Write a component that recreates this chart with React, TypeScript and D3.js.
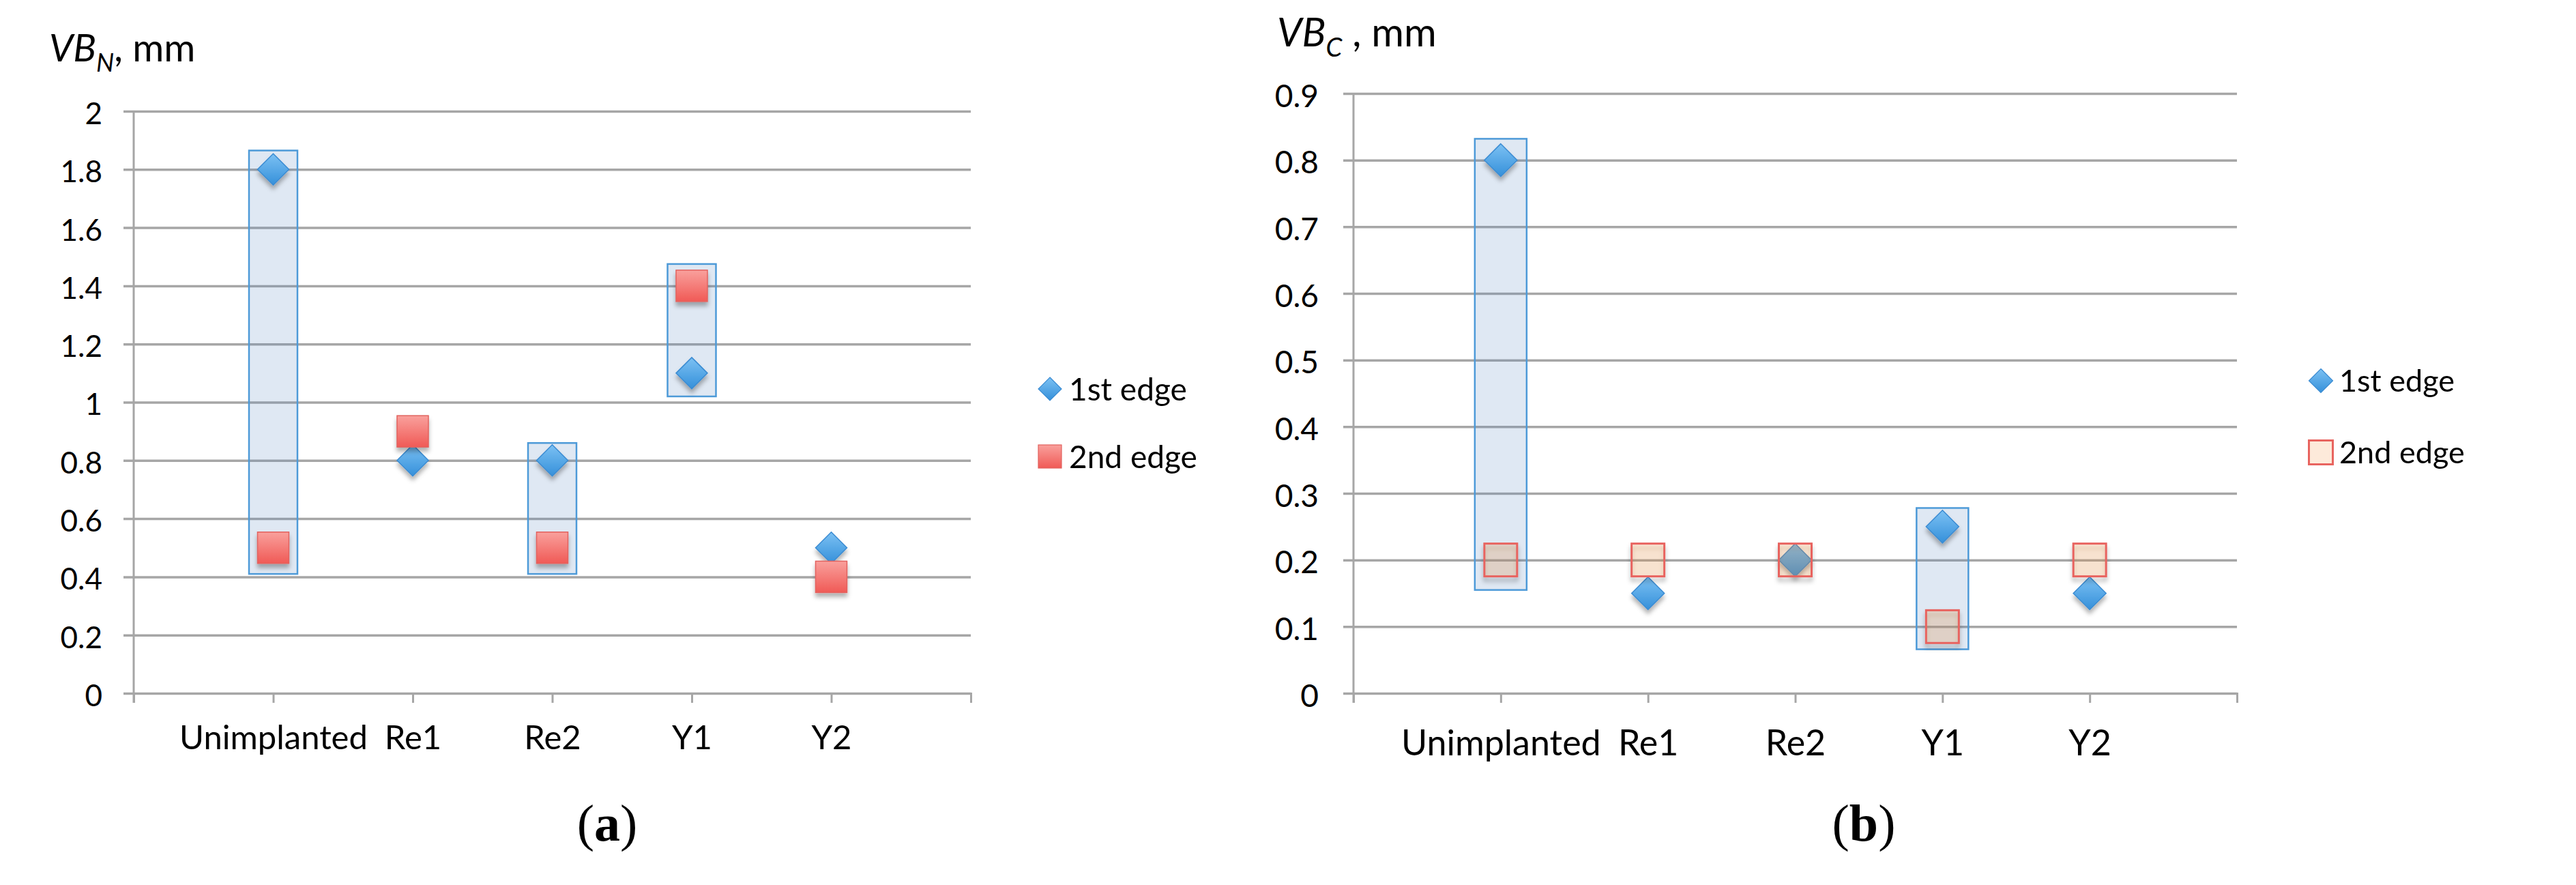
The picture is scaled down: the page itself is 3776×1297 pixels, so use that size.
import React, { useEffect, useRef } from 'react';
import * as d3 from 'd3';

const categories = ['Unimplanted', 'Re1', 'Re2', 'Y1', 'Y2'];
const legendLabels = ['1st edge', '2nd edge'];

// (a) VB_N
const vbnFirstEdge = [1.8, 0.8, 0.8, 1.1, 0.5];
const vbnSecondEdge = [0.5, 0.9, 0.5, 1.4, 0.4];
const vbnTicks = [0, 0.2, 0.4, 0.6, 0.8, 1, 1.2, 1.4, 1.6, 1.8, 2];
const vbnBoxCats = ['Unimplanted', 'Re2', 'Y1'];
const vbnBoxLow = [0.41, 0.41, 1.02];
const vbnBoxHigh = [1.865, 0.86, 1.475];

// (b) VB_C
const vbcFirstEdge = [0.8, 0.15, 0.2, 0.25, 0.15];
const vbcSecondEdge = [0.2, 0.2, 0.2, 0.1, 0.2];
const vbcTicks = [0, 0.1, 0.2, 0.3, 0.4, 0.5, 0.6, 0.7, 0.8, 0.9];
const vbcBoxCats = ['Unimplanted', 'Y1'];
const vbcBoxLow = [0.155, 0.066];
const vbcBoxHigh = [0.832, 0.278];

const FONT = 'Lato, "Open Sans", sans-serif';
const GRID = '#a6a6a6';

interface Panel {
  left: number; right: number; top: number; bottom: number;
  ticks: number[];
  first: number[]; second: number[];
  boxCats: string[]; boxLow: number[]; boxHigh: number[];
  hollow: boolean;
  tickFont: number; tickLabelX: number;
  catFont: number; catBaseline: number;
  diamond: number; square: number; boxWidth: number;
  titleX: number; titleY: number; titleSize: number; titleSub: string; titleRest: string;
  legX: number; legY1: number; legY2: number; legTextX: number; legFont: number; legMarker: number;
  capX: number; capLetter: string;
}

const panels: Panel[] = [
  {
    left: 196, right: 1423, top: 163, bottom: 1016,
    ticks: vbnTicks, first: vbnFirstEdge, second: vbnSecondEdge,
    boxCats: vbnBoxCats, boxLow: vbnBoxLow, boxHigh: vbnBoxHigh,
    hollow: false,
    tickFont: 44, tickLabelX: 150, catFont: 49, catBaseline: 1098,
    diamond: 23, square: 46, boxWidth: 71,
    titleX: 72, titleY: 90, titleSize: 56, titleSub: 'N', titleRest: ', mm',
    legX: 1539, legY1: 570, legY2: 669, legTextX: 1567, legFont: 46, legMarker: 34,
    capX: 890, capLetter: 'a',
  },
  {
    left: 1984, right: 3279, top: 137, bottom: 1016,
    ticks: vbcTicks, first: vbcFirstEdge, second: vbcSecondEdge,
    boxCats: vbcBoxCats, boxLow: vbcBoxLow, boxHigh: vbcBoxHigh,
    hollow: true,
    tickFont: 46, tickLabelX: 1933, catFont: 52, catBaseline: 1107,
    diamond: 24, square: 48, boxWidth: 76,
    titleX: 1872, titleY: 68, titleSize: 58, titleSub: 'C', titleRest: ' , mm',
    legX: 3402, legY1: 558, legY2: 663, legTextX: 3429, legFont: 45, legMarker: 35,
    capX: 2732, capLetter: 'b',
  },
];

const diamondPath = (h: number) => `M0,${-h}L${h},0L0,${h}L${-h},0Z`;

export default function App() {
  const svgRef = useRef<SVGSVGElement>(null);

  useEffect(() => {
    if (!svgRef.current) return;
    const svg = d3.select(svgRef.current);
    svg.selectAll('*').remove();

    const defs = svg.append('defs');
    const blue = defs.append('linearGradient').attr('id', 'blueGrad').attr('x1', 0).attr('y1', 0).attr('x2', 0).attr('y2', 1);
    blue.append('stop').attr('offset', '0%').attr('stop-color', '#7cc1f3');
    blue.append('stop').attr('offset', '100%').attr('stop-color', '#3590da');
    const red = defs.append('linearGradient').attr('id', 'redGrad').attr('x1', 0).attr('y1', 0).attr('x2', 0).attr('y2', 1);
    red.append('stop').attr('offset', '0%').attr('stop-color', '#f9a09c');
    red.append('stop').attr('offset', '100%').attr('stop-color', '#f05a56');
    const shadow = defs.append('filter').attr('id', 'shadow').attr('x', '-50%').attr('y', '-50%').attr('width', '200%').attr('height', '200%');
    shadow.append('feDropShadow').attr('dx', 0).attr('dy', 6).attr('stdDeviation', 3)
      .attr('flood-color', '#000').attr('flood-opacity', 0.3);

    panels.forEach(p => {
      const x = d3.scalePoint<string>().domain(categories).range([p.left, p.right]).padding(1);
      const yMax = p.ticks[p.ticks.length - 1];
      const y = d3.scaleLinear().domain([0, yMax]).range([p.bottom, p.top]);
      const g = svg.append('g');

      // horizontal gridlines + y tick labels
      const yAxis = g.append('g')
        .attr('transform', `translate(${p.left - 15},0)`)
        .call(d3.axisLeft(y).tickValues(p.ticks).tickSize(-(p.right - p.left + 15))
          .tickPadding(p.left - 15 - p.tickLabelX)
          .tickFormat(d => String(+(+d).toFixed(1))));
      yAxis.select('.domain').remove();
      yAxis.selectAll('line').attr('stroke', GRID).attr('stroke-width', 3.5);
      yAxis.selectAll('text')
        .attr('font-family', FONT).attr('font-size', p.tickFont).attr('fill', '#000').attr('dy', '0.42em');

      // vertical axis line
      g.append('line')
        .attr('x1', p.left).attr('x2', p.left)
        .attr('y1', y(yMax)).attr('y2', p.bottom + 14)
        .attr('stroke', GRID).attr('stroke-width', 3);

      // category axis
      const xAxis = g.append('g')
        .attr('transform', `translate(0,${p.bottom})`)
        .call(d3.axisBottom(x).tickSizeInner(14).tickSizeOuter(14));
      xAxis.select('.domain').attr('stroke', GRID).attr('stroke-width', 3);
      xAxis.selectAll('line').attr('stroke', GRID).attr('stroke-width', 3);
      xAxis.selectAll('text')
        .attr('font-family', FONT).attr('font-size', p.catFont).attr('fill', '#000')
        .attr('y', p.catBaseline - p.bottom).attr('dy', 0);

      // highlight boxes (behind the markers)
      g.append('g')
        .selectAll('rect')
        .data(p.boxCats)
        .join('rect')
        .attr('x', c => (x(c) as number) - p.boxWidth / 2)
        .attr('y', (c, i) => y(p.boxHigh[i]))
        .attr('width', p.boxWidth)
        .attr('height', (c, i) => y(p.boxLow[i]) - y(p.boxHigh[i]))
        .attr('fill', 'rgba(79,129,189,0.18)')
        .attr('stroke', '#4d9ad8')
        .attr('stroke-width', 2.5);

      // 1st edge diamonds
      g.append('g').attr('filter', 'url(#shadow)')
        .selectAll('path')
        .data(categories)
        .join('path')
        .attr('transform', (c, i) => `translate(${x(c)},${y(p.first[i])})`)
        .attr('d', diamondPath(p.diamond))
        .attr('fill', 'url(#blueGrad)')
        .attr('stroke', '#3a8bd2')
        .attr('stroke-width', 1.5);

      // 2nd edge squares
      g.append('g').attr('filter', 'url(#shadow)')
        .selectAll('rect')
        .data(categories)
        .join('rect')
        .attr('x', c => (x(c) as number) - p.square / 2)
        .attr('y', (c, i) => y(p.second[i]) - p.square / 2)
        .attr('width', p.square)
        .attr('height', p.square)
        .attr('fill', p.hollow ? 'rgba(247,150,70,0.2)' : 'url(#redGrad)')
        .attr('stroke', p.hollow ? '#e8645f' : '#e2625e')
        .attr('stroke-width', p.hollow ? 3 : 1.5);

      // y title
      const title = g.append('text')
        .attr('x', p.titleX).attr('y', p.titleY)
        .attr('font-family', FONT).attr('font-size', p.titleSize).attr('fill', '#000');
      title.append('tspan').attr('font-style', 'italic').text('VB');
      title.append('tspan').attr('font-style', 'italic')
        .attr('font-size', p.titleSize * 0.66).attr('dy', p.titleSize * 0.26).text(p.titleSub);
      title.append('tspan').attr('dy', -p.titleSize * 0.26).text(p.titleRest);

      // legend
      const leg = g.append('g');
      leg.append('path')
        .attr('transform', `translate(${p.legX},${p.legY1})`)
        .attr('d', diamondPath(p.legMarker / 2))
        .attr('fill', 'url(#blueGrad)').attr('stroke', '#3a8bd2').attr('stroke-width', 1.2);
      leg.append('rect')
        .attr('x', p.legX - p.legMarker / 2).attr('y', p.legY2 - p.legMarker / 2)
        .attr('width', p.legMarker).attr('height', p.legMarker)
        .attr('fill', p.hollow ? 'rgba(247,150,70,0.2)' : 'url(#redGrad)')
        .attr('stroke', p.hollow ? '#e8645f' : '#e2625e')
        .attr('stroke-width', p.hollow ? 3 : 1.2);
      leg.selectAll('text')
        .data(legendLabels)
        .join('text')
        .attr('x', p.legTextX)
        .attr('y', (d, i) => (i === 0 ? p.legY1 : p.legY2) + p.legFont * 0.36)
        .attr('font-family', FONT).attr('font-size', p.legFont).attr('fill', '#000')
        .text(d => d);

      // panel caption
      const cap = g.append('text')
        .attr('x', p.capX).attr('y', 1232)
        .attr('text-anchor', 'middle')
        .attr('font-family', '"Liberation Serif", "DejaVu Serif", serif')
        .attr('font-size', 76).attr('fill', '#000');
      cap.append('tspan').text('(');
      cap.append('tspan').attr('font-weight', 'bold').text(p.capLetter);
      cap.append('tspan').text(')');
    });
  }, []);

  return (
    <div style={{ position: 'absolute', left: 0, top: 0, background: '#fff' }}>
      <svg ref={svgRef} width={3776} height={1297} style={{ display: 'block' }} />
    </div>
  );
}
